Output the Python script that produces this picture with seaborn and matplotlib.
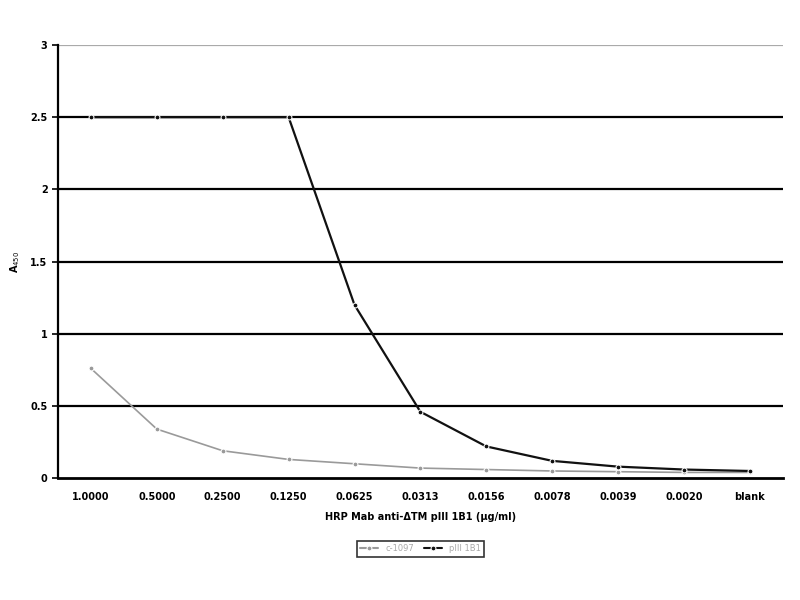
import numpy as np
import pandas as pd
import seaborn as sns
import matplotlib.pyplot as plt
from matplotlib.ticker import FixedLocator, NullFormatter

# dilution categories and absorbance values
dilutions = ['1.0000', '0.5000', '0.2500', '0.1250', '0.0625', '0.0313',
             '0.0156', '0.0078', '0.0039', '0.0020', 'blank']
ctrl_vals = [0.76, 0.34, 0.19, 0.13, 0.10, 0.07, 0.06, 0.05, 0.045, 0.04, 0.04]
mab_vals = [2.50, 2.50, 2.50, 2.50, 1.20, 0.46, 0.22, 0.12, 0.08, 0.06, 0.05]
series_names = ['c-1097', 'pIII 1B1']

pos = np.arange(len(dilutions))
df = pd.concat([
    pd.DataFrame({'pos': pos, 'A450': ctrl_vals, 'series': series_names[0]}),
    pd.DataFrame({'pos': pos, 'A450': mab_vals, 'series': series_names[1]}),
])

sns.set_style('white')
plt.rcParams['font.family'] = ['DejaVu Sans']
plt.rcParams['text.color'] = 'black'
plt.rcParams['axes.labelcolor'] = 'black'
plt.rcParams['xtick.color'] = 'black'
plt.rcParams['ytick.color'] = 'black'

fig = plt.figure(figsize=(8, 6), dpi=100)
ax = fig.add_axes([0.0725, 0.203, 0.906, 0.722])

pal = {series_names[0]: '#9a9a9a', series_names[1]: '#111111'}
sns.lineplot(data=df, x='pos', y='A450', hue='series', palette=pal,
             style='series', markers={series_names[0]: 'o', series_names[1]: 'o'},
             dashes=False, markersize=3.5, ax=ax, legend=True)
for ln, lw in zip(ax.lines, [1.2, 1.6]):
    ln.set_linewidth(lw)

ax.set_ylim(0, 3)
ax.set_yticks(np.arange(0, 3.01, 0.5))
ax.set_yticklabels(['0', '0.5', '1', '1.5', '2', '2.5', '3'], fontsize=7, fontweight='bold')
ax.set_xlim(-0.5, len(dilutions) - 0.5)
ax.set_xticks(pos)
ax.set_xticklabels(dilutions, fontsize=7, fontweight='bold')
ax.xaxis.set_minor_locator(FixedLocator(np.arange(0.5, len(dilutions) - 1, 1)))
ax.xaxis.set_minor_formatter(NullFormatter())
ax.tick_params(axis='x', which='major', length=0, pad=10)
ax.tick_params(axis='x', which='minor', length=5, width=1.5, direction='out', color='black')
ax.tick_params(axis='y', length=4, width=1.2, direction='out', color='black', left=True)

ax.grid(axis='y', color='black', linewidth=1.6)
ax.get_ygridlines()[-1].set_color('#aaaaaa')
ax.get_ygridlines()[0].set_visible(False)
ax.set_axisbelow(True)

sns.despine(ax=ax, top=True, right=True)
ax.spines['left'].set_color('black')
ax.spines['left'].set_linewidth(1.6)
ax.spines['bottom'].set_color('black')
ax.spines['bottom'].set_linewidth(2.0)

ax.set_xlabel('HRP Mab anti-ΔTM pIII 1B1 (µg/ml)', fontsize=7, fontweight='bold', labelpad=7)
ax.set_ylabel('A$_{450}$', fontsize=7, fontweight='bold', labelpad=6)

leg = ax.legend(loc='upper center', bbox_to_anchor=(0.5, -0.135), ncol=2,
                fontsize=6, frameon=True, fancybox=False, borderpad=0.4,
                handlelength=2.2, columnspacing=1.2)
leg.get_frame().set_edgecolor('black')
leg.get_frame().set_linewidth(1.2)
for t in leg.get_texts():
    t.set_color('#aaaaaa')

fig.savefig('out.png', dpi=100)
